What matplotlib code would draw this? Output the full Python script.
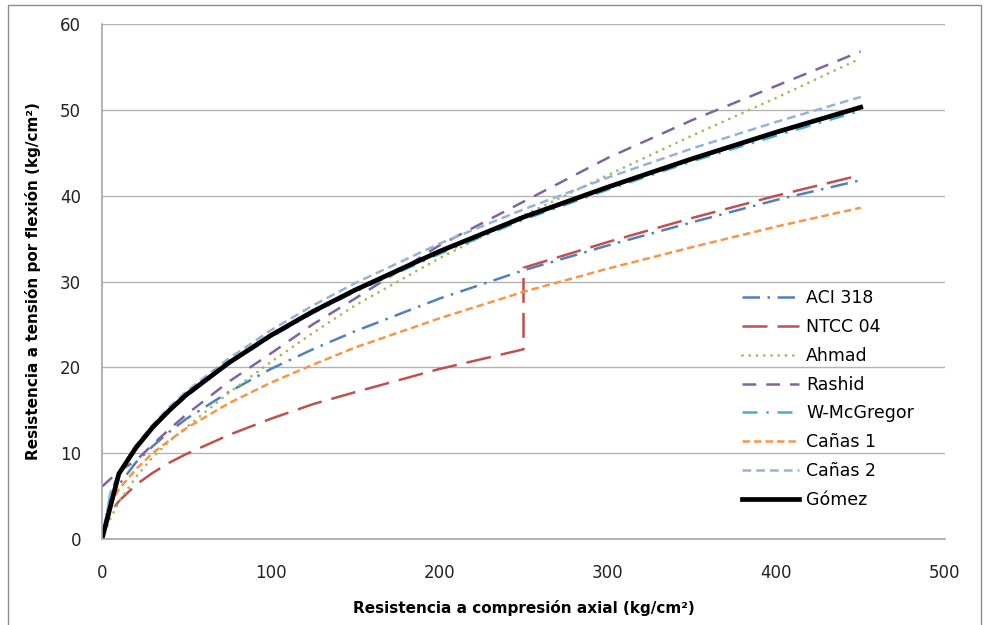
import matplotlib
matplotlib.use("Agg")
import matplotlib.pyplot as plt
from matplotlib.patches import Rectangle

# resistencia a compresion axial (kg/cm2)
fc = [0, 5, 10, 20, 30, 40, 50, 75, 100, 125, 150, 200, 250, 300, 350, 400, 450]

aci = [0, 4.4, 6.3, 8.9, 10.8, 12.5, 14.0, 17.1, 19.8, 22.1, 24.2, 28.0, 31.3, 34.2, 36.9, 39.5, 41.8]
ahmad = [0, 2.4, 4.3, 7.2, 9.5, 11.4, 13.0, 17.0, 20.6, 24.0, 27.2, 32.7, 37.7, 42.4, 47.0, 51.4, 56.0]
rashid = [6.1, 7.0, 7.9, 9.1, 11.0, 12.8, 14.5, 18.3, 21.6, 25.0, 28.0, 34.2, 39.3, 44.4, 48.8, 52.8, 56.8]
wmc = [0, 5.3, 7.4, 10.5, 12.9, 14.9, 16.6, 20.4, 23.5, 26.3, 28.8, 33.2, 37.2, 40.7, 44.0, 47.0, 49.9]
canas1 = [0, 4.1, 5.8, 8.1, 10.0, 11.5, 12.9, 15.8, 18.2, 20.3, 22.3, 25.7, 28.8, 31.5, 34.0, 36.4, 38.6]
canas2 = [0, 5.4, 7.7, 10.9, 13.3, 15.4, 17.2, 21.0, 24.3, 27.2, 29.8, 34.4, 38.4, 42.1, 45.5, 48.6, 51.5]
gomez = [0, 3.8, 7.6, 10.6, 13.0, 15.0, 16.8, 20.5, 23.7, 26.5, 29.0, 33.5, 37.5, 41.0, 44.3, 47.4, 50.3]

# NTCC 04 tiene un salto en 250
fc_ntcc = [0, 5, 10, 20, 30, 40, 50, 75, 100, 125, 150, 200, 250, 250, 300, 350, 400, 450]
ntcc = [0, 3.1, 4.4, 6.3, 7.7, 8.9, 9.9, 12.1, 14.0, 15.7, 17.1, 19.8, 22.1, 31.6, 34.6, 37.4, 40.0, 42.4]

fig = plt.figure(figsize=(9.84, 6.25), dpi=100)
ax = fig.add_axes([102 / 984, 1 - 539 / 625, (945 - 102) / 984, (539 - 24) / 625])

lw = 1.8
ax.plot(fc, aci, color="#4F81BD", lw=lw, ls=(0, (7, 3, 1, 3)), label="ACI 318")
ax.plot(fc_ntcc, ntcc, color="#C0504D", lw=lw, ls=(0, (10, 4)), label="NTCC 04")
ax.plot(fc, ahmad, color="#9BBB59", lw=2, ls=(0, (0.01, 2.6)),
        dash_capstyle="round", label="Ahmad")
ax.plot(fc, rashid, color="#8064A2", lw=lw, ls=(0, (5.5, 4)), label="Rashid")
ax.plot(fc, wmc, color="#4BACC6", lw=lw, ls=(0, (6, 3.5, 1, 3.5)), label="W-McGregor")
ax.plot(fc, canas1, color="#F79646", lw=lw, ls=(0, (3, 1.6)), label="Cañas 1")
ax.plot(fc, canas2, color="#95B3D7", lw=lw, ls=(0, (3.5, 2)), label="Cañas 2")
ax.plot(fc, gomez, color="black", lw=3.4, solid_joinstyle="miter", label="Gómez")

ax.set_xlim(0, 500)
ax.set_ylim(0, 60)
ax.set_xticks(range(0, 501, 100))
ax.set_yticks(range(0, 61, 10))
ax.grid(axis="y", color="#b3b3b3", lw=1)
ax.set_axisbelow(True)
for s in ["top", "right"]:
    ax.spines[s].set_visible(False)
for s in ["left", "bottom"]:
    ax.spines[s].set_color("#a6a6a6")
    ax.spines[s].set_linewidth(1.2)
ax.tick_params(length=0, labelsize=12, labelcolor="#222222")
ax.tick_params(axis="y", pad=15)
ax.tick_params(axis="x", pad=18)

ax.set_xlabel("Resistencia a compresión axial (kg/cm²)", fontsize=11, fontweight="bold",
              labelpad=13)
ax.set_ylabel("Resistencia a tensión por flexión (kg/cm²)", fontsize=11, fontweight="bold",
              labelpad=14)

ax.legend(loc="center left", bbox_to_anchor=(742 / 984, 1 - 399 / 625),
          bbox_transform=fig.transFigure, frameon=False, fontsize=12.5,
          handlelength=3.3, handletextpad=0.4, labelspacing=0.62,
          borderpad=0, borderaxespad=0)

fig.patches.append(Rectangle((8 / 984, -0.1), (981 - 8) / 984, 1.1 - 5 / 625,
                             transform=fig.transFigure, fill=False,
                             edgecolor="#8c8c8c", lw=1))

fig.savefig("out.png", dpi=100)
